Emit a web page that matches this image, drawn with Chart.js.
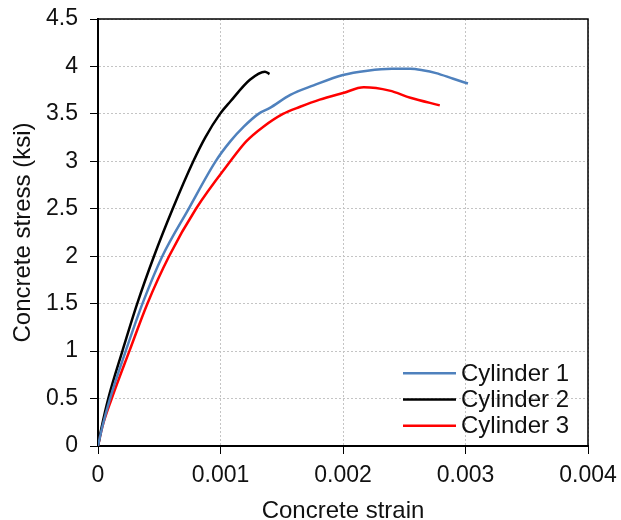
<!DOCTYPE html>
<html>
<head>
<meta charset="utf-8">
<script src="https://cdn.jsdelivr.net/npm/chart.js@4/dist/chart.umd.min.js"></script>
<style>
  html, body { margin: 0; padding: 0; background: #fff; }
  #wrap { width: 621px; height: 520px; }
</style>
</head>
<body>
<div id="wrap"><canvas id="c" width="621" height="520"></canvas></div>
<script>
// Stress-strain curves of three concrete cylinders
const seriesNames = ['Cylinder 1', 'Cylinder 2', 'Cylinder 3'];
const seriesColors = ['#4f81bd', '#000000', '#ff0000'];

const cyl1Strain = [0, 0.000035, 0.000098, 0.000226, 0.000363, 0.000525, 0.00074, 0.00096, 0.00108, 0.00119, 0.00131, 0.0014, 0.00157, 0.00176, 0.002, 0.0022, 0.0024, 0.00255, 0.00265, 0.00276, 0.0029, 0.00302];
const cyl1Stress = [0, 0.2, 0.5, 1.0, 1.5, 2.0, 2.5, 3.0, 3.21, 3.365, 3.5, 3.56, 3.7, 3.8, 3.91, 3.955, 3.975, 3.975, 3.96, 3.93, 3.87, 3.82];

const cyl2Strain = [0, 0.00003, 0.000084, 0.000199, 0.00032, 0.000457, 0.00061, 0.000778, 0.000875, 0.000996, 0.00108, 0.00124, 0.001363, 0.0014];
const cyl2Stress = [0, 0.2, 0.5, 1.0, 1.5, 2.0, 2.5, 3.0, 3.25, 3.5, 3.63, 3.86, 3.945, 3.92];

const cyl3Strain = [0, 0.000035, 0.000112, 0.000256, 0.000403, 0.00058, 0.0008, 0.00108, 0.00121, 0.00135, 0.00151, 0.00165, 0.00181, 0.002, 0.00217, 0.00238, 0.00255, 0.00279];
const cyl3Stress = [0, 0.2, 0.5, 1.0, 1.5, 2.0, 2.5, 3.0, 3.21, 3.365, 3.5, 3.575, 3.65, 3.72, 3.78, 3.745, 3.67, 3.59];

const xTicks = [0, 0.001, 0.002, 0.003, 0.004];
const yTicks = [0, 0.5, 1, 1.5, 2, 2.5, 3, 3.5, 4, 4.5];

const toPoints = (xs, ys) => xs.map((x, i) => ({ x: x, y: ys[i] }));
const allSeries = [
  toPoints(cyl1Strain, cyl1Stress),
  toPoints(cyl2Strain, cyl2Stress),
  toPoints(cyl3Strain, cyl3Stress)
];

const FONT = '"Liberation Sans", Arial, sans-serif';

// Frame around the plot area plus a borderless legend in the lower right
const framePlugin = {
  id: 'frame',
  afterDatasetsDraw(chart) {
    const { ctx, chartArea: a } = chart;
    ctx.save();
    ctx.strokeStyle = '#000';
    ctx.lineWidth = 1.5;
    ctx.beginPath();
    ctx.moveTo(a.left, a.top);
    ctx.lineTo(a.right, a.top);
    ctx.lineTo(a.right, a.bottom);
    ctx.stroke();
    ctx.restore();
  },
  afterDraw(chart) {
    const { ctx, chartArea: a } = chart;
    const ds = chart.data.datasets;
    ctx.save();
    ctx.font = '24px ' + FONT;
    ctx.textBaseline = 'middle';
    ctx.textAlign = 'left';
    const x0 = a.right - 185, x1 = x0 + 53;
    const yStart = a.bottom - 72.7, step = 26.2;
    ds.forEach((d, i) => {
      const y = yStart + i * step;
      ctx.strokeStyle = d.borderColor;
      ctx.lineWidth = 2.5;
      ctx.beginPath();
      ctx.moveTo(x0, y);
      ctx.lineTo(x1, y);
      ctx.stroke();
      ctx.fillStyle = '#111';
      ctx.fillText(d.label, x1 + 5, y + 1);
    });
    ctx.restore();
  }
};

new Chart(document.getElementById('c'), {
  type: 'scatter',
  data: {
    datasets: allSeries.map((pts, i) => ({
      label: seriesNames[i],
      data: pts,
      showLine: true,
      borderColor: seriesColors[i],
      backgroundColor: seriesColors[i],
      borderWidth: 2.5,
      pointRadius: 0,
      cubicInterpolationMode: 'monotone'
    }))
  },
  options: {
    responsive: false,
    animation: false,
    devicePixelRatio: 1,
    layout: { padding: { left: 0, top: 19, right: 33, bottom: 0 } },
    plugins: { legend: { display: false }, tooltip: { enabled: false } },
    scales: {
      x: {
        type: 'linear',
        min: 0, max: 0.004,
        afterBuildTicks(scale) { scale.ticks = xTicks.map(v => ({ value: v })); },
        afterFit(scale) { scale.height = 74; scale.paddingLeft = 0; scale.paddingRight = 0; },
        ticks: {
          color: '#111',
          font: { family: FONT, size: 23 },
          padding: 8,
          maxRotation: 0,
          callback: v => String(v)
        },
        grid: { color: '#c4c4c4', tickColor: '#000', tickLength: 8, lineWidth: 1 },
        border: { color: '#000', width: 2, dash: [2, 2] },
        title: { display: true, text: 'Concrete strain', color: '#111', font: { family: FONT, size: 24, lineHeight: 0.75 }, padding: { top: 0, bottom: 0 } }
      },
      y: {
        type: 'linear',
        min: 0, max: 4.5,
        afterBuildTicks(scale) { scale.ticks = yTicks.map(v => ({ value: v })); },
        afterFit(scale) { scale.width = 98; scale.paddingTop = 0; scale.paddingBottom = 0; },
        ticks: {
          color: '#111',
          font: { family: FONT, size: 23 },
          padding: 12,
          callback: v => String(v)
        },
        grid: { color: '#c4c4c4', tickColor: '#000', tickLength: 8, lineWidth: 1 },
        border: { color: '#000', width: 2, dash: [2, 2] },
        title: { display: true, text: 'Concrete stress (ksi)', color: '#111', font: { family: FONT, size: 24 }, padding: { top: 9, bottom: 0 } }
      }
    }
  },
  plugins: [framePlugin]
});
</script>
</body>
</html>
